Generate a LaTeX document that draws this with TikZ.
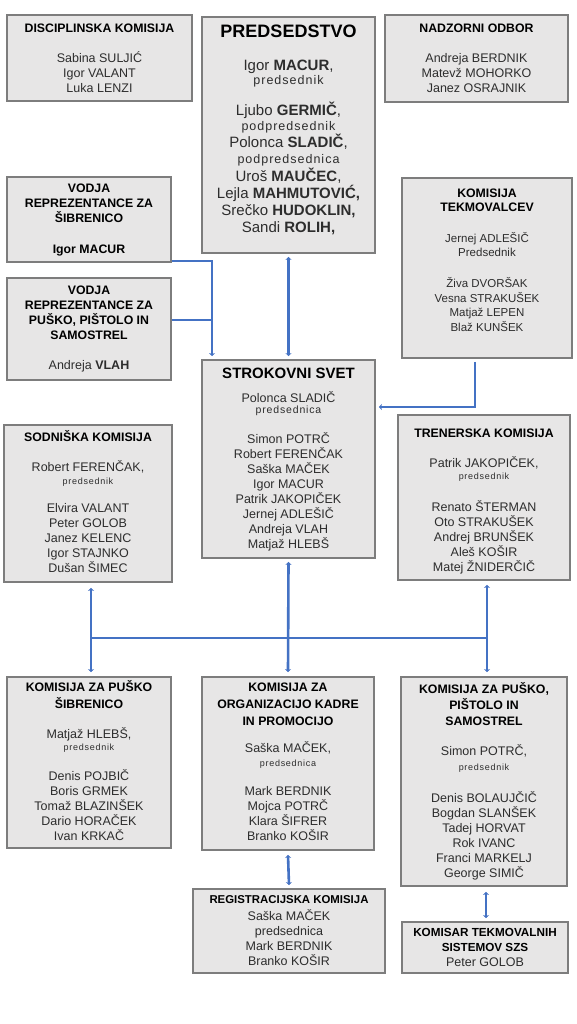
\documentclass[tikz,border=0pt]{standalone}
\usepackage{fontspec}
\setmainfont{Liberation Sans}
\newfontfamily\smallsp[LetterSpace=8]{Liberation Sans}
\usetikzlibrary{arrows.meta,fit}
\definecolor{cblue}{RGB}{68,114,196}
\definecolor{boxfill}{RGB}{231,230,230}
\definecolor{boxline}{RGB}{125,125,125}
\definecolor{ntext}{RGB}{45,45,45}
\newcommand{\ttl}[2][12.3]{{\color{black}\bfseries\fontsize{#1}{15}\selectfont #2}}
\newcommand{\smtxt}[2][9]{{\smallsp\fontsize{#1}{15}\selectfont #2}}
\newcommand{\st}{\rule{0pt}{11pt}}
\tikzset{
  boxst/.style={draw=boxline, fill=boxfill, line width=1.8pt, inner sep=0pt},
  txt/.style={align=center, inner sep=0pt, anchor=north, text=ntext, font=\fontsize{12.5}{15}\selectfont},
  conn/.style={draw=cblue, line width=2.6pt},
  arr/.style={-{Stealth[length=3pt,width=6pt]}},
  arrtwo/.style={{Stealth[length=3pt,width=6pt]}-{Stealth[length=3pt,width=6pt]}}
}
\begin{document}
\begin{tikzpicture}[x=1pt,y=-1pt]
\useasboundingbox (0,0) rectangle (576,1024);
\fill[white] (0,0) rectangle (576,1024);

% boxes
\node[boxst, fit={(7,15) (192,101)}] (dis) {};
\node[boxst, fit={(202,17) (375,253)}] (pr) {};
\node[boxst, fit={(385,15) (568,102)}] (nad) {};
\node[boxst, fit={(7,177) (171,262)}] (v1) {};
\node[boxst, fit={(7,278) (171,380)}] (v2) {};
\node[boxst, fit={(402,178) (572,358)}] (tk) {};
\node[boxst, fit={(202,360) (375,558)}] (ss) {};
\node[boxst, fit={(4,425) (172,582)}] (sod) {};
\node[boxst, fit={(398,415) (570,580)}] (tre) {};
\node[boxst, fit={(7,677) (171,848)}] (sib) {};
\node[boxst, fit={(202,677) (374,850)}] (org) {};
\node[boxst, fit={(401,677) (567,886)}] (pis) {};
\node[boxst, fit={(193,889) (385,973)}] (reg) {};
\node[boxst, fit={(402,922) (568,973)}] (kom) {};

% texts
\node[txt] (disT) at (99.5,21.5) {\st\ttl{DISCIPLINSKA KOMISIJA}\\[15pt]Sabina SULJIĆ\\Igor VALANT\\Luka LENZI};
\node[txt] (nadT) at (476.5,21.5) {\st\ttl{NADZORNI ODBOR}\\[15pt]Andreja BERDNIK\\Matevž MOHORKO\\Janez OSRAJNIK};
\node[txt, font=\fontsize{15}{17}\selectfont] (prT) at (288.5,24.4) {\rule{0pt}{13pt}{\color{black}\bfseries\fontsize{18}{17}\selectfont PREDSEDSTVO}\\[16pt]Igor \textbf{MACUR},\\[-3pt]\smtxt[12.5]{predsednik}\\[14pt]Ljubo \textbf{GERMIČ},\\[-2pt]\smtxt[12.5]{podpredsednik}\\Polonca \textbf{SLADIČ},\\[-1pt]\smtxt[12.5]{podpredsednica}\\[1pt]Uroš \textbf{MAUČEC},\\Lejla \textbf{MAHMUTOVIĆ,}\\Srečko \textbf{HUDOKLIN,}\\Sandi \textbf{ROLIH,}};
\node[txt] (v1T) at (89,181.5) {\st\ttl{VODJA}\\\ttl{REPREZENTANCE ZA}\\\ttl{ŠIBRENICO}\\[16pt]\ttl{Igor MACUR}};
\node[txt] (v2T) at (89,283.5) {\st\ttl{VODJA}\\\ttl{REPREZENTANCE ZA}\\\ttl{PUŠKO, PIŠTOLO IN}\\\ttl{SAMOSTREL}\\[15pt]Andreja \textbf{VLAH}};
\node[txt, font=\fontsize{11.5}{14.5}\selectfont] (tkT) at (487,186) {\st\ttl{KOMISIJA}\\\ttl{TEKMOVALCEV}\\[16pt]Jernej ADLEŠIČ\\Predsednik\\[16.5pt]Živa DVORŠAK\\Vesna STRAKUŠEK\\Matjaž LEPEN\\Blaž KUNŠEK};
\node[txt] (ssT) at (288.5,367) {\st{\color{black}\bfseries\fontsize{15}{15}\selectfont STROKOVNI SVET}\\[9pt]Polonca SLADIČ\\[-4pt]\smtxt[10.5]{predsednica}\\[15pt]Simon POTRČ\\Robert FERENČAK\\Saška MAČEK\\Igor MACUR\\Patrik JAKOPIČEK\\Jernej ADLEŠIČ\\Andreja VLAH\\Matjaž HLEBŠ};
\node[txt] (sodT) at (88,430.5) {\st\ttl{SODNIŠKA KOMISIJA}\\[15pt]Robert FERENČAK,\\[-2.7pt]\smtxt{predsednik}\\[13.3pt]Elvira VALANT\\Peter GOLOB\\Janez KELENC\\Igor STAJNKO\\Dušan ŠIMEC};
\node[txt] (treT) at (484,426.5) {\st\ttl{TRENERSKA KOMISIJA}\\[15pt]Patrik JAKOPIČEK,\\[-3pt]\smtxt{predsednik}\\[17pt]Renato ŠTERMAN\\Oto STRAKUŠEK\\Andrej BRUNŠEK\\Aleš KOŠIR\\Matej ŽNIDERČIČ};
\node[txt] (sibT) at (89,680.5) {\st\ttl{KOMISIJA ZA PUŠKO}\\[1.3pt]\ttl{ŠIBRENICO}\\[15.3pt]Matjaž HLEBŠ,\\[-2.7pt]\smtxt{predsednik}\\[15.3pt]Denis POJBIČ\\Boris GRMEK\\Tomaž BLAZINŠEK\\Dario HORAČEK\\Ivan KRKAČ};
\node[txt] (orgT) at (288,680.5) {\st\ttl{KOMISIJA ZA}\\[2pt]\ttl{ORGANIZACIJO KADRE}\\[2pt]\ttl{IN PROMOCIJO}\\[12pt]Saška MAČEK,\\[-1.5pt]\smtxt{predsednica}\\[14.5pt]Mark BERDNIK\\Mojca POTRČ\\Klara ŠIFRER\\Branko KOŠIR};
\node[txt] (pisT) at (484,682.5) {\st\ttl{KOMISIJA ZA PUŠKO,}\\[0.5pt]\ttl{PIŠTOLO IN}\\[1pt]\ttl{SAMOSTREL}\\[15pt]Simon POTRČ,\\\smtxt{predsednik}\\[17pt]Denis BOLAUJČIČ\\Bogdan SLANŠEK\\Tadej HORVAT\\Rok IVANC\\Franci MARKELJ\\George SIMIČ};
\node[txt] (regT) at (289,892.5) {\st\ttl[11.4]{REGISTRACIJSKA KOMISIJA}\\[2pt]Saška MAČEK\\predsednica\\Mark BERDNIK\\Branko KOŠIR};
\node[txt] (komT) at (485,925.5) {\st\ttl[11.7]{KOMISAR TEKMOVALNIH}\\\ttl[11.7]{SISTEMOV SZS}\\Peter GOLOB};

% connectors
\coordinate (jx) at (213,320);
\coordinate (busL) at (91,638);
\coordinate (busR) at (487,638);
\draw[conn, arr] ([yshift=2pt]v1.south east) -| ([xshift=11pt,yshift=3pt]ss.north west);
\draw[conn] ([yshift=9pt]v2.east) -- (jx);
\draw[conn, arrtwo] ([yshift=-3pt]pr.south) -- ([yshift=3pt]ss.north);
\draw[conn, arr] ([xshift=-12pt,yshift=-3pt]tk.south) |- ([xshift=3pt,yshift=52pt]ss.east);
\draw[conn] (busL) -- (busR);
\draw[conn, arrtwo] ([xshift=3pt,yshift=-5pt]sod.south) -- ([xshift=2pt,yshift=4pt]sib.north);
\draw[conn, arrtwo] ([yshift=-3pt]ss.south) -- ([yshift=4pt]org.north);
\draw[conn, arrtwo] ([xshift=3pt,yshift=-4pt]tre.south) -- ([xshift=3pt,yshift=4pt]pis.north);
\draw[conn, arrtwo] ([yshift=-4pt]org.south) -- ([yshift=3pt]reg.north);
\draw[conn, arrtwo] ([xshift=2pt,yshift=-5pt]pis.south) -- ([xshift=1pt,yshift=3pt]kom.north);
\end{tikzpicture}
\end{document}
